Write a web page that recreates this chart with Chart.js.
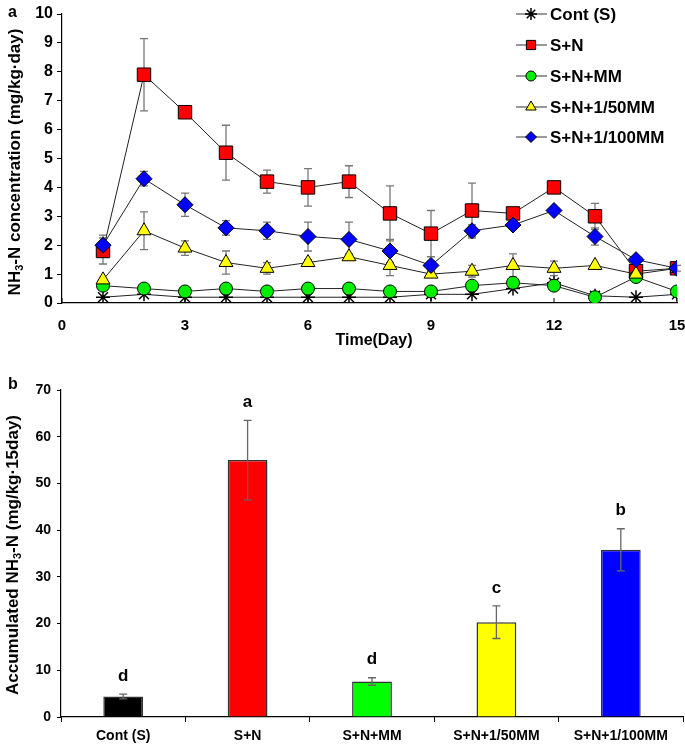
<!DOCTYPE html>
<html>
<head>
<meta charset="utf-8">
<script src="https://cdn.jsdelivr.net/npm/chart.js@4.4.1/dist/chart.umd.min.js"></script>
<style>
  body { margin: 0; background: #fff; }
  #wrapA { position: absolute; left: 0; top: 0; width: 685px; height: 365px; }
  #wrapB { position: absolute; left: 0; top: 365px; width: 685px; height: 383px; }
</style>
</head>
<body>
<div id="wrapA"><canvas id="chartA"></canvas></div>
<div id="wrapB"><canvas id="chartB"></canvas></div>
<script>
// ---- panel a: daily NH3-N (days 1..15) ----
const days = [1, 2, 3, 4, 5, 6, 7, 8, 9, 10, 11, 12, 13, 14, 15];

const contS     = [0.2, 0.3, 0.2, 0.2, 0.2, 0.2, 0.2, 0.2, 0.3, 0.3, 0.5, 0.7, 0.25, 0.2, 0.3];
const contS_err = [0, 0, 0, 0, 0, 0, 0, 0, 0, 0, 0, 0, 0, 0, 0];

const sn     = [1.8, 7.9, 6.6, 5.2, 4.2, 4.0, 4.2, 3.1, 2.4, 3.2, 3.1, 4.0, 3.0, 1.1, 1.2];
const sn_err = [0.45, 1.25, 0.2, 0.95, 0.4, 0.65, 0.55, 0.95, 0.8, 0.95, 0.1, 0.05, 0.45, 0.1, 0.1];

const snMM     = [0.6, 0.5, 0.4, 0.5, 0.4, 0.5, 0.5, 0.4, 0.4, 0.6, 0.7, 0.6, 0.2, 0.9, 0.4];
const snMM_err = [0, 0, 0, 0, 0, 0, 0, 0, 0, 0, 0, 0, 0, 0, 0];

const sn50     = [0.8, 2.5, 1.9, 1.4, 1.2, 1.4, 1.6, 1.3, 1.0, 1.1, 1.3, 1.2, 1.3, 1.0, 1.2];
const sn50_err = [0, 0.65, 0.25, 0.4, 0.2, 0.1, 0.1, 0.35, 0.1, 0.2, 0.4, 0.25, 0.05, 0.1, 0];

const sn100     = [2.0, 4.3, 3.4, 2.6, 2.5, 2.3, 2.2, 1.8, 1.3, 2.5, 2.7, 3.2, 2.3, 1.5, 1.2];
const sn100_err = [0.35, 0.25, 0.4, 0.25, 0.3, 0.5, 0.6, 0.4, 0.15, 0.2, 0.15, 0.05, 0.3, 0.05, 0];

// ---- panel b: accumulated over 15 days ----
const treatments = ['Cont (S)', 'S+N', 'S+N+MM', 'S+N+1/50MM', 'S+N+1/100MM'];
const accum      = [4.4, 55.0, 7.6, 20.3, 35.8];
const accum_err  = [0.5, 8.5, 0.8, 3.5, 4.5];
const sigLetters = ['d', 'a', 'd', 'c', 'b'];
const barColors  = ['#000000', '#ff0000', '#00ff00', '#ffff00', '#0000ff'];

const FAM = '"Liberation Sans", Arial, sans-serif';

function drawSubTitle(ctx, parts, x, y, size) {
  // parts: [text, isSub], drawn rotated -90deg centred on (x, y)
  ctx.save();
  const big = 'bold ' + size + 'px ' + FAM;
  const small = 'bold ' + Math.round(size * 0.65) + 'px ' + FAM;
  let total = 0;
  parts.forEach(p => { ctx.font = p[1] ? small : big; total += ctx.measureText(p[0]).width; });
  ctx.translate(x, y);
  ctx.rotate(-Math.PI / 2);
  ctx.fillStyle = '#000';
  ctx.textBaseline = 'middle';
  ctx.textAlign = 'left';
  let cx = -total / 2;
  parts.forEach(p => {
    ctx.font = p[1] ? small : big;
    ctx.fillText(p[0], cx, p[1] ? size * 0.3 : 0);
    cx += ctx.measureText(p[0]).width;
  });
  ctx.restore();
}

function errBar(ctx, x, top, bot) {
  ctx.beginPath();
  ctx.moveTo(x, top); ctx.lineTo(x, bot);
  ctx.moveTo(x - 4, top); ctx.lineTo(x + 4, top);
  ctx.moveTo(x - 4, bot); ctx.lineTo(x + 4, bot);
  ctx.stroke();
}

function lineSet(label, data, err, style, fill, radius, order, legendRadius) {
  return {
    label: label,
    data: data.map((v, k) => ({ x: days[k], y: v })),
    values: data, err: err,
    borderColor: '#222', borderWidth: 1, tension: 0,
    pointStyle: style, pointRadius: radius, pointHoverRadius: radius,
    pointBackgroundColor: fill, pointBorderColor: '#000', pointBorderWidth: style === 'star' ? 1.5 : 1,
    order: order, legendRadius: legendRadius
  };
}

const dsA = [
  lineSet('Cont (S)', contS, contS_err, 'star', '#000', 7, 5, 6),
  lineSet('S+N', sn, sn_err, 'rect', '#ff0000', 9.5, 4, 6.5),
  lineSet('S+N+MM', snMM, snMM_err, 'circle', '#00ee00', 6.5, 3, 5),
  lineSet('S+N+1/50MM', sn50, sn50_err, 'triangle', '#ffff00', 8, 2, 6),
  lineSet('S+N+1/100MM', sn100, sn100_err, 'rectRot', '#0000ff', 8, 1, 5.5)
];

const errA = {
  id: 'errA',
  beforeDatasetsDraw(chart) {
    const ctx = chart.ctx, ys = chart.scales.y;
    ctx.save();
    ctx.strokeStyle = '#777';
    ctx.lineWidth = 1.3;
    chart.data.datasets.forEach((ds, i) => {
      chart.getDatasetMeta(i).data.forEach((pt, k) => {
        const e = ds.err[k];
        if (!e) return;
        const v = ds.values[k];
        errBar(ctx, pt.x, ys.getPixelForValue(v + e), ys.getPixelForValue(v - e));
      });
    });
    ctx.restore();
  }
};

const decorA = {
  id: 'decorA',
  afterDraw(chart) {
    const ctx = chart.ctx;
    ctx.save();
    ctx.fillStyle = '#000';
    ctx.font = 'bold 16px ' + FAM;
    ctx.textBaseline = 'middle';
    ctx.fillText('a', 8, 13);
    ctx.textAlign = 'center';
    ctx.fillText('Time(Day)', 374, 341);
    // inward x ticks
    const xs = chart.scales.x, bottom = chart.chartArea.bottom;
    ctx.strokeStyle = '#000';
    ctx.lineWidth = 1;
    xs.ticks.forEach(t => {
      const px = xs.getPixelForValue(t.value);
      ctx.beginPath(); ctx.moveTo(px, bottom); ctx.lineTo(px, bottom - 5); ctx.stroke();
    });
    ctx.restore();
    drawSubTitle(ctx, [['NH', 0], ['3', 1], ['-N concentration (mg/kg\u00b7day)', 0]], 15, 162, 17);

    // legend
    ctx.save();
    const rows = [14, 45, 76, 107, 137];
    const lx0 = 516, lx1 = 547, mx = 531, tx = 550;
    chart.data.datasets.forEach((ds, i) => {
      const y = rows[i];
      ctx.strokeStyle = '#333';
      ctx.lineWidth = 1;
      ctx.beginPath(); ctx.moveTo(lx0, y); ctx.lineTo(lx1, y); ctx.stroke();
      ctx.fillStyle = ds.pointBackgroundColor;
      ctx.strokeStyle = '#000';
      ctx.lineWidth = ds.pointBorderWidth;
      Chart.helpers.drawPoint(ctx, { pointStyle: ds.pointStyle, rotation: 0, radius: ds.legendRadius, borderWidth: 1 }, mx, y);
      ctx.fillStyle = '#000';
      ctx.font = 'bold 17px ' + FAM;
      ctx.textBaseline = 'middle';
      ctx.fillText(ds.label, tx, y + 1);
    });
    ctx.restore();
  }
};

new Chart(document.getElementById('chartA'), {
  type: 'line',
  data: { datasets: dsA },
  options: {
    responsive: true, maintainAspectRatio: false, animation: false,
    layout: { autoPadding: false, padding: { top: 14, right: 8, left: 0, bottom: 0 } },
    plugins: { legend: { display: false }, tooltip: { enabled: false } },
    scales: {
      x: {
        type: 'linear', min: 0, max: 15,
        afterFit: s => { s.height = 62; s.paddingLeft = 0; s.paddingRight = 0; },
        ticks: { stepSize: 3, color: '#000', padding: 6, maxRotation: 0,
                 font: { family: FAM, size: 15, weight: 'bold' } },
        grid: { display: false },
        border: { display: true, color: '#000', width: 1.2 }
      },
      y: {
        min: 0, max: 10,
        afterFit: s => { s.width = 62; s.paddingTop = 0; s.paddingBottom = 0; },
        ticks: { stepSize: 1, color: '#000', padding: 4,
                 font: { family: FAM, size: 16, weight: 'bold' } },
        grid: { drawOnChartArea: false, drawTicks: true, tickLength: 5, color: '#000' },
        border: { display: true, color: '#000', width: 1.2 }
      }
    }
  },
  plugins: [errA, decorA]
});

// ---- panel b ----
const decorB = {
  id: 'decorB',
  afterDatasetsDraw(chart) {
    const ctx = chart.ctx, ys = chart.scales.y;
    ctx.save();
    ctx.strokeStyle = '#666';
    ctx.lineWidth = 1.3;
    chart.getDatasetMeta(0).data.forEach((bar, k) => {
      const top = ys.getPixelForValue(accum[k] + accum_err[k]);
      errBar(ctx, bar.x, top, ys.getPixelForValue(accum[k] - accum_err[k]));
      ctx.fillStyle = '#000';
      ctx.font = 'bold 17px ' + FAM;
      ctx.textAlign = 'center';
      ctx.textBaseline = 'middle';
      ctx.fillText(sigLetters[k], bar.x, top - 18);
    });
    ctx.restore();
  },
  afterDraw(chart) {
    const ctx = chart.ctx;
    ctx.save();
    ctx.fillStyle = '#000';
    ctx.font = 'bold 16px ' + FAM;
    ctx.textBaseline = 'middle';
    ctx.fillText('b', 8, 20);
    ctx.restore();
    drawSubTitle(ctx, [['Accumulated NH', 0], ['3', 1], ['-N (mg/kg\u00b715day)', 0]], 13, 190, 17);
  }
};

new Chart(document.getElementById('chartB'), {
  type: 'bar',
  data: {
    labels: treatments,
    datasets: [{
      data: accum,
      backgroundColor: barColors,
      borderColor: '#333',
      borderWidth: 1.5,
      categoryPercentage: 1,
      barPercentage: 0.32
    }]
  },
  options: {
    responsive: true, maintainAspectRatio: false, animation: false,
    layout: { autoPadding: false, padding: { top: 25, right: 2, left: 0, bottom: 0 } },
    plugins: { legend: { display: false }, tooltip: { enabled: false } },
    scales: {
      x: {
        afterFit: s => { s.height = 31; s.paddingLeft = 0; s.paddingRight = 0; },
        ticks: { color: '#000', padding: 6, maxRotation: 0,
                 font: { family: FAM, size: 14, weight: 'bold' } },
        grid: { offset: true, drawOnChartArea: false, drawTicks: true, tickLength: 5, color: '#000' },
        border: { display: true, color: '#000', width: 1.2 }
      },
      y: {
        min: 0, max: 70,
        afterFit: s => { s.width = 61; s.paddingTop = 0; s.paddingBottom = 0; },
        ticks: { stepSize: 10, color: '#000', padding: 6,
                 font: { family: FAM, size: 14, weight: 'bold' } },
        grid: { drawOnChartArea: false, drawTicks: true, tickLength: 4, color: '#000' },
        border: { display: true, color: '#000', width: 1.2 }
      }
    }
  },
  plugins: [decorB]
});
</script>
</body>
</html>
